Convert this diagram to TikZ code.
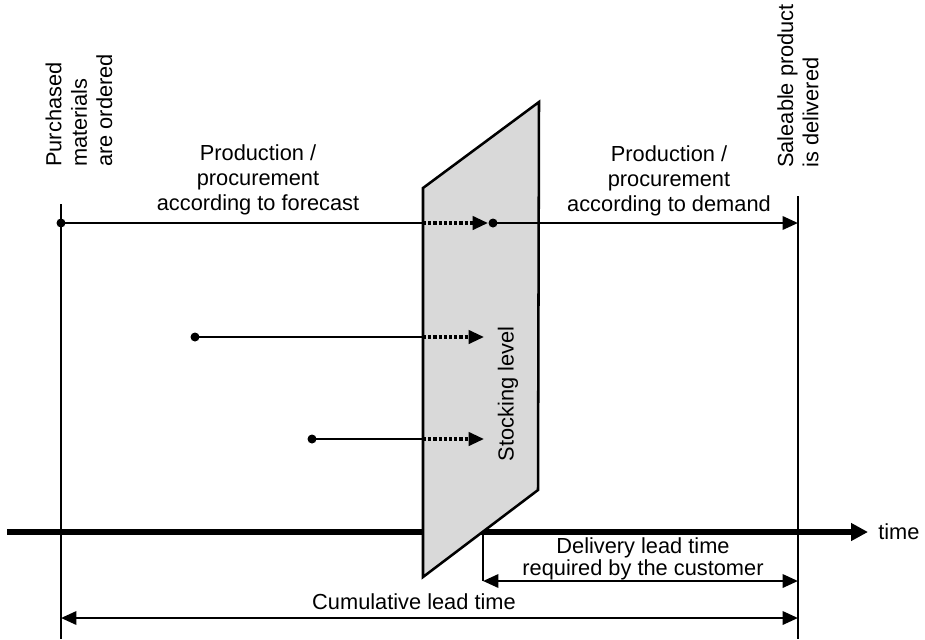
\documentclass[tikz,border=0pt]{standalone}
\usepackage{fontspec}
\setmainfont{Liberation Sans}
\usetikzlibrary{calc,positioning,arrows.meta}

\begin{document}
\begin{tikzpicture}[x=0.025cm,y=-0.025cm]
\useasboundingbox (0,0) rectangle (925,639);
\tikzstyle{txt}=[inner sep=0pt, font=\fontsize{15.5}{18}\selectfont, align=center]
\tikzstyle{thinline}=[line width=1.8pt]
\tikzstyle{tip}=[-{Triangle[length=11pt,width=9.5pt]}]
\tikzstyle{twotips}=[{Triangle[length=11pt,width=9.5pt]}-{Triangle[length=11pt,width=9.5pt]}]
\tikzstyle{dotarrow}=[line width=2.4pt, dash pattern=on 2.2pt off 1.5pt, -{Triangle[length=11pt,width=9.5pt]}]
\tikzstyle{dotmark}=[fill=black]
\coordinate (ordT) at (61,204);
\coordinate (ordB) at (61,639);
\coordinate (delT) at (798,196);
\coordinate (delB) at (798,639);
\coordinate (axL) at (7,532);
\coordinate (axR) at (868,532);
\coordinate (p1) at (423,188);
\coordinate (p2) at (539,102);
\coordinate (p3) at (538,490);
\coordinate (p4) at (423,577);
\coordinate (a1) at (61,223);
\coordinate (a1in) at (423,223);
\coordinate (a1tip) at (488,223);
\coordinate (a1out) at (493,223);
\coordinate (a1end) at (798,223);
\coordinate (a2) at (195,337);
\coordinate (a2in) at (423,337);
\coordinate (a2tip) at (484,337);
\coordinate (a3) at (312,439);
\coordinate (a3in) at (423,439);
\coordinate (a3tip) at (484,439);
\coordinate (dlvL) at (483,581);
\coordinate (dlvR) at (798,581);
\coordinate (dlvT) at (483,532);
\coordinate (cumL) at (61,618);
\coordinate (cumR) at (798,618);
\node[txt, rotate=90, anchor=west, align=left] (ordered) at (79,167) {Purchased\\materials\\are ordered};
\node[txt, rotate=90, anchor=west, align=left] (delivered) at (798,168) {Saleable product\\is delivered};
\node[txt] (fcst) at (258,180) {Production /\\procurement\\according to forecast};
\node[txt] (dmd) at (669,181) {Production /\\procurement\\according to demand};
\node[txt] (time) [anchor=west] at (878,532) {time};
\node[txt, font=\fontsize{15.5}{16}\selectfont] (dlvtxt) at (643,559) {Delivery lead time\\required by the customer};
\node[txt] (cum) at (414,602) {Cumulative lead time};
\draw[thinline] (ordT) -- (ordB);
\draw[thinline] (delT) -- (delB);
\draw[line width=4pt, -{Triangle[length=12pt,width=12pt]}] (axL) -- (axR);
\draw[thinline, fill=gray!30] (p1) -- (p2) -- (p3) -- (p4) -- cycle;
\node[txt, rotate=90] (stock) at (508,394) {Stocking level};
\draw[thinline] (a1) -- (a1in);
\draw[dotarrow] (a1in) -- (a1tip);
\draw[thinline, tip] (a1out) -- (a1end);
\draw[thinline] (a2) -- (a2in);
\draw[dotarrow] (a2in) -- (a2tip);
\draw[thinline] (a3) -- (a3in);
\draw[dotarrow] (a3in) -- (a3tip);
\fill[dotmark] (a1) circle (3.2pt);
\fill[dotmark] (a1out) circle (3.2pt);
\fill[dotmark] (a2) circle (3.2pt);
\fill[dotmark] (a3) circle (3.2pt);
\draw[thinline] (dlvT) -- (dlvL);
\draw[thinline, twotips] (dlvL) -- (dlvR);
\draw[thinline, twotips] (cumL) -- (cumR);
\end{tikzpicture}
\end{document}
